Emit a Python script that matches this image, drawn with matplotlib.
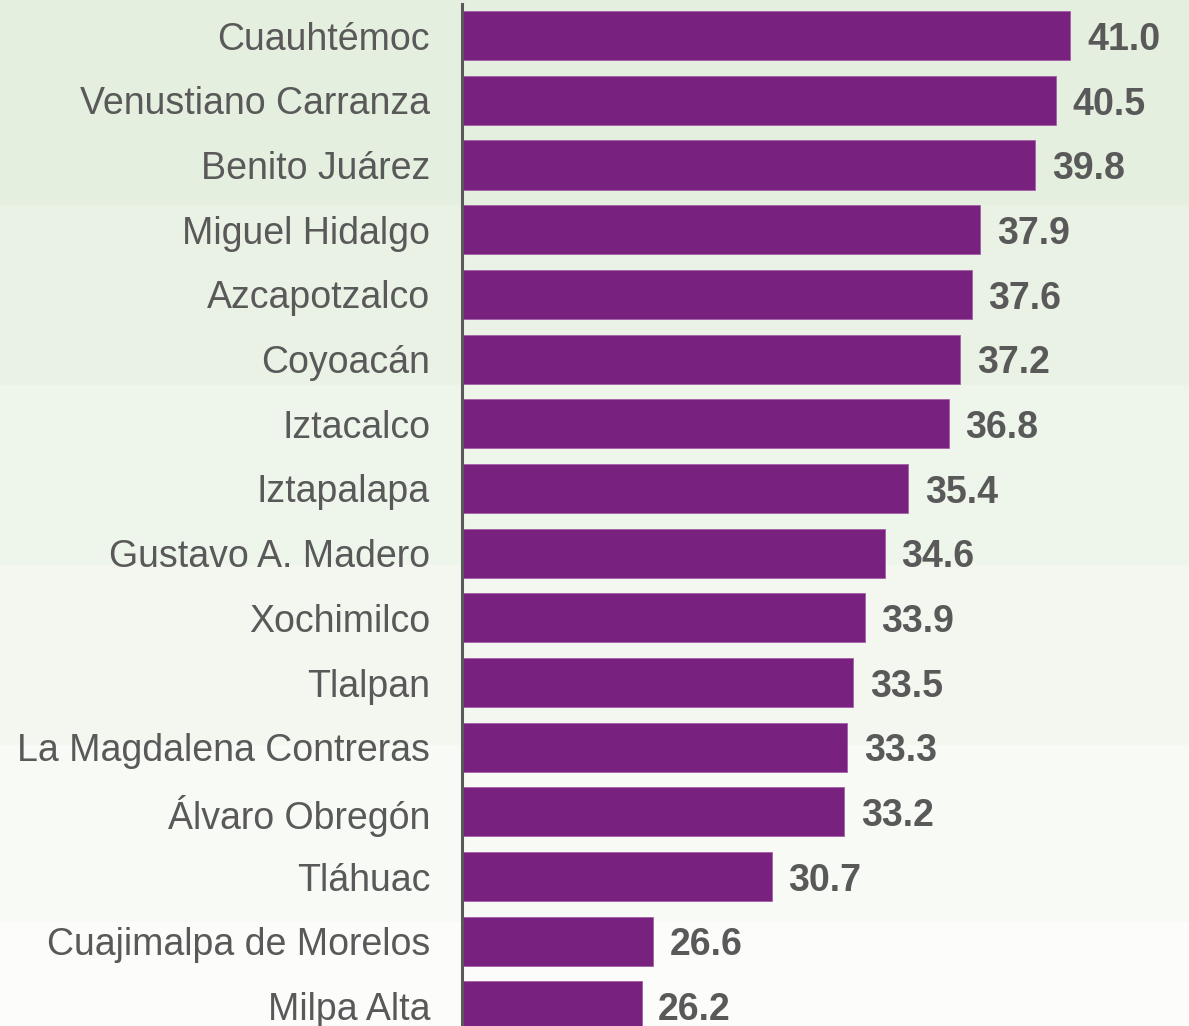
import numpy as np
import matplotlib.pyplot as plt
from matplotlib.colors import to_rgb

# ---------------- data ----------------
alcaldias = ["Cuauhtémoc", "Venustiano Carranza", "Benito Juárez", "Miguel Hidalgo",
             "Azcapotzalco", "Coyoacán", "Iztacalco", "Iztapalapa", "Gustavo A. Madero",
             "Xochimilco", "Tlalpan", "La Magdalena Contreras", "Álvaro Obregón",
             "Tláhuac", "Cuajimalpa de Morelos", "Milpa Alta"]
valores = [41.0, 40.5, 39.8, 37.9, 37.6, 37.2, 36.8, 35.4, 34.6,
           33.9, 33.5, 33.3, 33.2, 30.7, 26.6, 26.2]

# ---------------- style ----------------
W, H = 1189, 1026
bar_color = "#78217E"
text_color = "#595959"
plt.rcParams['font.family'] = ['Liberation Sans', 'DejaVu Sans']

fig = plt.figure(figsize=(W / 100, H / 100), dpi=100)

# stepped green -> white background
bg = fig.add_axes([0, 0, 1, 1])
bg.set_xlim(0, 1)
bg.set_ylim(H, 0)
bg.axis("off")
edges = [0, 205, 385, 565, 745, 922, H]
top_c = np.array(to_rgb("#E5EFDF"))
bot_c = np.array(to_rgb("#FCFDFB"))
n = len(edges) - 1
for i in range(n):
    c = top_c + (bot_c - top_c) * i / (n - 1)
    bg.axhspan(edges[i], edges[i + 1], color=c, lw=0)

# main axes
x0 = 462 / W
ax = fig.add_axes([x0, 0, 1 - x0, 1022 / H])
ax.patch.set_visible(False)
y = np.arange(len(alcaldias))
ax.barh(y, valores, height=0.76, color=bar_color, edgecolor="#A460A8", linewidth=0.6, zorder=2)
ax.set_xlim(20, 45.1)
ax.set_ylim(15.31, -0.49)

for yi, v in zip(y, valores):
    ax.annotate(f"{v:.1f}", xy=(v, yi), xytext=(12, -3), textcoords="offset points",
                ha="left", va="center", fontsize=27, fontweight="bold", color=text_color)

ax.set_yticks(y)
ax.set_yticklabels(alcaldias, fontsize=27, color=text_color)
ax.tick_params(axis="y", length=0, pad=23)
ax.set_xticks([])
for s in ["top", "right", "bottom"]:
    ax.spines[s].set_visible(False)
ax.spines["left"].set_color(text_color)
ax.spines["left"].set_linewidth(2.2)

fig.savefig("out.png", dpi=100)
